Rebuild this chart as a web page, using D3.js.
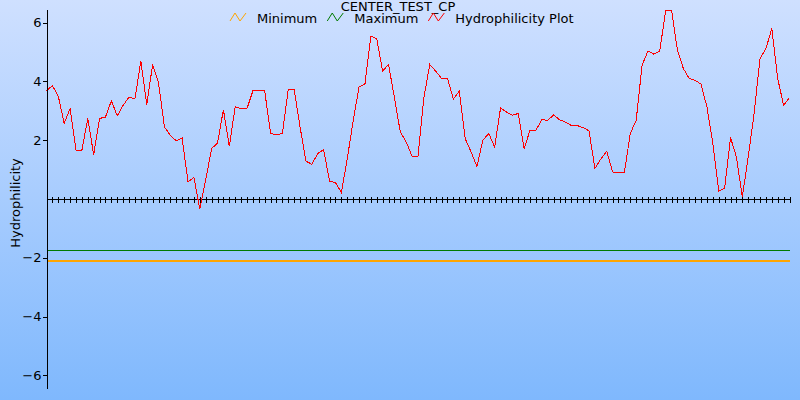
<!DOCTYPE html>
<html>
<head>
<meta charset="utf-8">
<script src="https://cdn.jsdelivr.net/npm/d3@7"></script>
<style>
  html, body { margin: 0; padding: 0; background: #fff; }
  svg { display: block; font-family: "DejaVu Sans", Verdana, sans-serif; }
</style>
</head>
<body>
<svg id="chart" width="800" height="400"></svg>
<script>
// ---- data ----
const title = "CENTER_TEST_CP";
const yAxisTitle = "Hydrophilicity";
const seriesNames = ["Minimum", "Maximum", "Hydrophilicity Plot"];
const seriesColors = ["#ffa500", "#007a00", "#ff0000"];
const minimumValue = -2.10;
const maximumValue = -1.73;
const yTickValues = [-6, -4, -2, 2, 4, 6];
const hydrophilicity = [
  3.68, 3.86, 3.50, 2.57, 3.08, 1.66, 1.66, 2.74, 1.51, 2.74,
  2.79, 3.34, 2.83, 3.19, 3.47, 3.41, 4.70, 3.21, 4.58, 3.95,
  2.45, 2.17, 1.98, 2.07, 0.58, 0.73, -0.35, 0.65, 1.72, 1.90,
  3.04, 1.79, 3.14, 3.08, 3.08, 3.68, 3.68, 3.68, 2.23, 2.19,
  2.23, 3.73, 3.73, 2.45, 1.29, 1.18, 1.55, 1.68, 0.61, 0.56,
  0.22, 1.36, 2.66, 3.81, 3.91, 5.54, 5.46, 4.35, 4.58, 3.45,
  2.28, 1.94, 1.45, 1.45, 3.45, 4.58, 4.35, 4.10, 4.10, 3.40,
  3.67, 2.06, 1.60, 1.11, 2.00, 2.23, 1.77, 3.10, 2.96, 2.85,
  2.91, 1.72, 2.34, 2.34, 2.70, 2.68, 2.86, 2.70, 2.62, 2.50,
  2.50, 2.43, 2.32, 1.04, 1.36, 1.63, 0.92, 0.90, 0.90, 2.23,
  2.68, 4.55, 5.04, 4.93, 5.04, 6.42, 6.42, 5.06, 4.44, 4.10,
  4.04, 3.91, 3.13, 1.89, 0.27, 0.37, 2.09, 1.43, 0.07, 1.43,
  2.91, 4.78, 5.12, 5.80, 4.10, 3.19, 3.45
];

// ---- layout ----
const W = 800, H = 400;
const plotLeft = 46.5, plotRight = 789.5, plotTop = 9.5, plotBottom = 388.5;
const yMax = 6.45;

const svg = d3.select("#chart");

// background gradient
const defs = svg.append("defs");
const grad = defs.append("linearGradient").attr("id", "bg")
  .attr("x1", 0).attr("y1", 0).attr("x2", 0).attr("y2", 1);
grad.append("stop").attr("offset", "0%").attr("stop-color", "#cfe0ff");
grad.append("stop").attr("offset", "100%").attr("stop-color", "#7fb8fd");
svg.append("rect").attr("width", W).attr("height", H).attr("fill", "url(#bg)");

const x = d3.scaleLinear().domain([0, hydrophilicity.length - 1]).range([plotLeft, plotRight]);
const y = d3.scaleLinear().domain([-yMax, yMax]).range([plotBottom, plotTop]);

// min / max reference lines
svg.append("line")
  .attr("x1", plotLeft).attr("x2", plotRight)
  .attr("y1", Math.round(y(maximumValue)) + 0.5).attr("y2", Math.round(y(maximumValue)) + 0.5)
  .attr("stroke", seriesColors[1]).attr("stroke-width", 1).attr("shape-rendering", "crispEdges");
svg.append("line")
  .attr("x1", plotLeft).attr("x2", plotRight)
  .attr("y1", Math.round(y(minimumValue))).attr("y2", Math.round(y(minimumValue)))
  .attr("stroke", seriesColors[0]).attr("stroke-width", 2).attr("shape-rendering", "crispEdges");

// x axis along zero with crossing ticks
const zeroY = Math.round(y(0)) + 0.5;
svg.append("line")
  .attr("x1", plotLeft).attr("x2", plotRight).attr("y1", zeroY).attr("y2", zeroY)
  .attr("stroke", "#000").attr("stroke-width", 1).attr("shape-rendering", "crispEdges");
svg.append("g").selectAll("line")
  .data(d3.range(hydrophilicity.length))
  .join("line")
  .attr("x1", d => Math.round(x(d)) + 0.5).attr("x2", d => Math.round(x(d)) + 0.5)
  .attr("y1", zeroY - 3).attr("y2", zeroY + 3)
  .attr("stroke", "#000").attr("stroke-width", 1).attr("shape-rendering", "crispEdges");

// data line
const line = d3.line().x((d, i) => x(i)).y(d => y(d));
svg.append("path")
  .datum(hydrophilicity)
  .attr("d", line)
  .attr("fill", "none")
  .attr("stroke", seriesColors[2])
  .attr("stroke-width", 1)
  .attr("shape-rendering", "crispEdges");

// y axis
const yAxis = d3.axisLeft(y).tickValues(yTickValues).tickSize(4).tickSizeOuter(0).tickPadding(1)
  .tickFormat(d3.format("d"));
const gy = svg.append("g").attr("transform", `translate(${plotLeft},0)`).call(yAxis);
gy.select(".domain").attr("stroke", "#000").attr("shape-rendering", "crispEdges");
gy.selectAll(".tick line").attr("stroke", "#000").attr("shape-rendering", "crispEdges");
gy.selectAll(".tick text").attr("fill", "#000")
  .style("font-family", "'DejaVu Sans', sans-serif").style("font-size", "13px");

// y axis title
svg.append("text")
  .attr("transform", "translate(19.5,203) rotate(-90)")
  .attr("text-anchor", "middle")
  .style("font-size", "13px")
  .attr("fill", "#000")
  .text(yAxisTitle);

// title
svg.append("text")
  .attr("x", 398).attr("y", 10.5)
  .attr("text-anchor", "middle")
  .style("font-size", "13px")
  .attr("fill", "#000")
  .text(title);

// legend
const legend = svg.append("g");
let cx = 0;
seriesNames.forEach((name, i) => {
  const g = legend.append("g");
  g.append("path")
    .attr("d", `M${cx},${21} L${cx + 5},${13} L${cx + 10},${21} L${cx + 16},${13}`)
    .attr("fill", "none").attr("stroke", seriesColors[i]).attr("stroke-width", 1);
  const t = g.append("text")
    .attr("x", cx + 27).attr("y", 22.5)
    .style("font-size", "13px").attr("fill", "#000")
    .text(name);
  const w = t.node().getComputedTextLength();
  cx += 27 + w + 10;
});
const totalW = cx - 10;
legend.attr("transform", `translate(${Math.round(402 - totalW / 2)},0)`);
</script>
</body>
</html>
